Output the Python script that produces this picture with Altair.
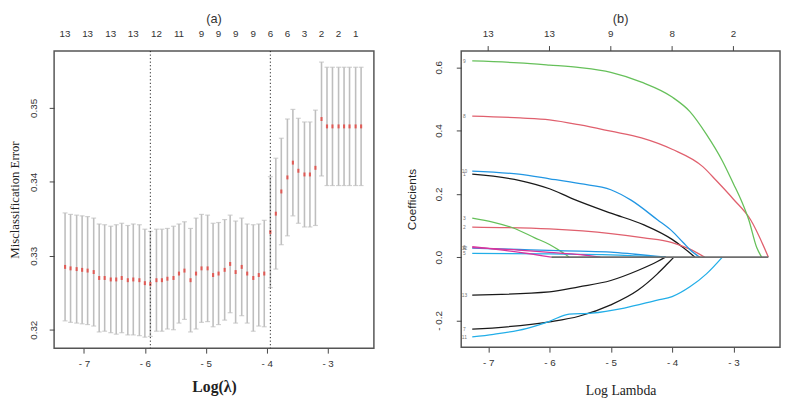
import altair as alt
import pandas as pd
import numpy as np

# ---------------- Panel (a): cross-validation curve ----------------
log_lambda = [-7.31, -7.22, -7.12, -7.03, -6.94, -6.84, -6.75, -6.66, -6.56, -6.47,
              -6.38, -6.28, -6.19, -6.09, -6.00, -5.91, -5.81, -5.72, -5.63, -5.53,
              -5.44, -5.35, -5.25, -5.16, -5.07, -4.97, -4.88, -4.79, -4.69, -4.60,
              -4.51, -4.41, -4.32, -4.22, -4.13, -4.04, -3.94, -3.85, -3.76, -3.66,
              -3.57, -3.48, -3.38, -3.29, -3.20, -3.10, -3.01, -2.92, -2.82, -2.73,
              -2.64, -2.54, -2.45]
cv_mean = [0.3285, 0.3283, 0.3282, 0.3281, 0.3280, 0.3278, 0.3270, 0.3270, 0.3268, 0.3268,
           0.3270, 0.3267, 0.3268, 0.3267, 0.3263, 0.3262, 0.3267, 0.3267, 0.3269, 0.3270,
           0.3276, 0.3280, 0.3267, 0.3276, 0.3283, 0.3283, 0.3274, 0.3276, 0.3281, 0.3289,
           0.3278, 0.3285, 0.3276, 0.3270, 0.3274, 0.3276, 0.3332, 0.3357, 0.3387, 0.3406,
           0.3426, 0.3415, 0.3410, 0.3410, 0.3419, 0.3485, 0.3475, 0.3475, 0.3475, 0.3475,
           0.3475, 0.3475, 0.3475]
cv_se = [0.0073, 0.0073, 0.0073, 0.0073, 0.0073, 0.0073, 0.0073, 0.0072, 0.0072, 0.0074,
         0.0074, 0.0074, 0.0075, 0.0075, 0.0073, 0.0071, 0.0069, 0.0069, 0.0068, 0.0070,
         0.0067, 0.0066, 0.0070, 0.0075, 0.0073, 0.0072, 0.0070, 0.0069, 0.0068, 0.0066,
         0.0069, 0.0066, 0.0067, 0.0072, 0.0069, 0.0072, 0.0075, 0.0075, 0.0072, 0.0079,
         0.0072, 0.0071, 0.0071, 0.0071, 0.0078, 0.0077, 0.0080, 0.0080, 0.0080, 0.0080,
         0.0080, 0.0080, 0.0080]
top_idx_a = [0, 4, 8, 12, 16, 20, 24, 27, 30, 33, 36, 39, 42, 45, 48, 51]
top_count_a = ["13", "13", "13", "13", "12", "11", "9", "9", "9", "9", "6", "6", "3", "2", "2", "1"]

# ---------------- Panel (b): coefficient paths ----------------
v1_x = [-7.26, -6.48, -6.0, -5.63, -5.0, -4.46, -4.0, -3.82, -3.63]
v1_y = [0.262, 0.242, 0.216, 0.185, 0.139, 0.102, 0.056, 0.030, 0.0]
v2_x = [-7.26, -6.0, -5.0, -4.46, -4.0, -3.71, -3.47]
v2_y = [0.095, 0.089, 0.0745, 0.061, 0.046, 0.025, 0.0]
v3_x = [-7.26, -6.91, -6.59, -6.24, -6.0, -5.79, -5.68]
v3_y = [0.123, 0.110, 0.092, 0.061, 0.040, 0.015, 0.0]
v4_x = [-7.26, -6.5, -6.0, -5.5, -5.0, -4.6, -4.1]
v4_y = [0.028, 0.024, 0.021, 0.019, 0.016, 0.009, 0.0]
v5_x = [-7.26, -6.0, -5.0, -4.5, -4.1]
v5_y = [0.012, 0.010, 0.007, 0.003, 0.0]
v6_x = [-7.26, -6.6, -5.97]
v6_y = [0.033, 0.018, 0.0]
v7_x = [-7.26, -6.0, -5.52, -5.0, -4.56, -4.24, -4.08, -3.97]
v7_y = [-0.228, -0.205, -0.187, -0.151, -0.105, -0.053, -0.022, 0.0]
v8_x = [-7.26, -6.48, -6.0, -5.5, -5.0, -4.5, -4.0, -3.5, -3.28, -3.0, -2.72, -2.43]
v8_y = [0.446, 0.440, 0.434, 0.418, 0.398, 0.377, 0.341, 0.286, 0.242, 0.183, 0.118, 0.0]
v9_x = [-7.26, -6.5, -6.0, -5.5, -5.0, -4.5, -4.0, -3.71, -3.44, -3.18, -3.0, -2.87, -2.75, -2.62, -2.54]
v9_y = [0.620, 0.614, 0.607, 0.599, 0.584, 0.553, 0.506, 0.460, 0.388, 0.304, 0.232, 0.178, 0.118, 0.030, 0.0]
v10_x = [-7.26, -6.5, -6.0, -5.5, -5.0, -4.67, -4.24, -4.0, -3.82, -3.66, -3.55]
v10_y = [0.272, 0.262, 0.2475, 0.232, 0.213, 0.180, 0.118, 0.082, 0.046, 0.015, 0.0]
v11_x = [-7.26, -6.91, -6.38, -6.0, -5.68, -5.31, -4.78, -4.24, -4.0, -3.71, -3.44, -3.18]
v11_y = [-0.252, -0.244, -0.226, -0.203, -0.180, -0.177, -0.161, -0.136, -0.125, -0.094, -0.053, 0.0]
v12_x = [-7.26, -6.5, -6.0, -5.5, -5.17]
v12_y = [0.030, 0.022, 0.015, 0.008, 0.0]
v13_x = [-7.26, -6.0, -5.52, -5.0, -4.56, -4.24, -4.11]
v13_y = [-0.120, -0.110, -0.094, -0.074, -0.0425, -0.014, 0.0]
top_vals_b = [-7, -6, -5, -4, -3]
top_count_b = ["13", "13", "9", "8", "2"]

paths = [(v1_x, v1_y), (v2_x, v2_y), (v3_x, v3_y), (v4_x, v4_y), (v5_x, v5_y),
         (v6_x, v6_y), (v7_x, v7_y), (v8_x, v8_y), (v9_x, v9_y), (v10_x, v10_y),
         (v11_x, v11_y), (v12_x, v12_y), (v13_x, v13_y)]
var_names = [str(i + 1) for i in range(13)]
# R default palette recycled (1:6)
var_colors = ["#1a1a1a", "#E0606E", "#66C05A", "#2196E3", "#22AEE8", "#D8359E",
              "#1a1a1a", "#E0606E", "#66C05A", "#2196E3", "#22AEE8", "#D8359E", "#1a1a1a"]

# ---------------- build tables ----------------
df_a = pd.DataFrame({"loglam": log_lambda, "cvm": cv_mean, "se": cv_se})
df_a["lo"] = df_a["cvm"] - df_a["se"]
df_a["hi"] = df_a["cvm"] + df_a["se"]
i_min = int(np.argmin(cv_mean))
thr = cv_mean[i_min] + cv_se[i_min] + 1e-9
i_1se = max(i for i, m in enumerate(cv_mean) if m <= thr)
df_vl = pd.DataFrame({"loglam": [log_lambda[i_min], log_lambda[i_1se]]})
df_top_a = pd.DataFrame({"loglam": [log_lambda[i] for i in top_idx_a], "n": top_count_a})
df_top_b = pd.DataFrame({"x": top_vals_b, "n": top_count_b})

rows = []
for name, (xs, ys) in zip(var_names, paths):
    for k, (xv, yv) in enumerate(zip(xs, ys)):
        rows.append({"var": name, "x": xv, "y": yv, "k": k})
df_b = pd.DataFrame(rows)
df_start = df_b[df_b["k"] == 0]
ends = [xs[-1] for xs, _ in paths]
df_zero = pd.DataFrame({"x": [min(ends)], "x2": [max(ends)], "y": [0.0]})

minus_int = "datum.value < 0 ? '- ' + format(-datum.value, 'd') : format(datum.value, 'd')"
minus_1f = "datum.value < 0 ? '- ' + format(-datum.value, '.1f') : format(datum.value, '.1f')"

SANS = "Liberation Sans"
SERIF = "Liberation Serif"
ax_common = dict(domain=False, grid=False, labelFont=SANS, labelFontSize=10,
                 labelColor="#333333", tickColor="#444444", tickWidth=1)

# ---------------- panel (a) ----------------
xa = alt.Scale(domain=[-7.49, -2.24], nice=False, zero=False)
ya = alt.Scale(domain=[0.3175, 0.3577], nice=False, zero=False)
base_a = alt.Chart(df_a)

bars = base_a.mark_rule(color="#BEBEBE", strokeWidth=1.6).encode(
    x=alt.X("loglam:Q", scale=xa, title="Log(λ)", axis=alt.Axis(
        values=[-7, -6, -5, -4, -3], labelExpr=minus_int,
        tickSize=5, labelPadding=6, titleFont=SERIF,
        titleFontSize=16, titleFontWeight="bold", titleColor="#222222",
        titlePadding=10, **ax_common)),
    y=alt.Y("lo:Q", scale=ya, title="Misclassification Error", axis=alt.Axis(
        values=[0.32, 0.33, 0.34, 0.35], format=".2f", labelAngle=-90,
        tickSize=5, labelPadding=11, titleFont=SERIF, titleFontSize=13,
        titleFontWeight="normal", titleColor="#222222", titlePadding=7, **ax_common)),
    y2="hi:Q",
)
cap_lo = base_a.mark_tick(orient="horizontal", size=5, thickness=1.2, color="#BEBEBE").encode(
    x=alt.X("loglam:Q", scale=xa), y=alt.Y("lo:Q", scale=ya))
cap_hi = base_a.mark_tick(orient="horizontal", size=5, thickness=1.2, color="#BEBEBE").encode(
    x=alt.X("loglam:Q", scale=xa), y=alt.Y("hi:Q", scale=ya))
pts = base_a.mark_tick(orient="vertical", size=4, thickness=2.2, color="#E8302A").encode(
    x=alt.X("loglam:Q", scale=xa), y=alt.Y("cvm:Q", scale=ya))
vlines = alt.Chart(df_vl).mark_rule(color="#222222", strokeWidth=1, strokeDash=[1.2, 2.4]).encode(
    x=alt.X("loglam:Q", scale=xa))
top_a = alt.Chart(df_top_a).mark_text(font=SANS, fontSize=10, color="#333333", baseline="middle").encode(
    x=alt.X("loglam:Q", scale=xa), y=alt.value(-17), text="n:N")

panel_a = alt.layer(bars, cap_lo, cap_hi, pts, vlines, top_a).properties(
    width=326, height=303, title="(a)")

# ---------------- panel (b) ----------------
xb = alt.Scale(domain=[-7.44, -2.24], nice=False, zero=False)
yb = alt.Scale(domain=[-0.285, 0.6516], nice=False, zero=False)

lines = alt.Chart(df_b).mark_line(interpolate="monotone", strokeWidth=1.3).encode(
    x=alt.X("x:Q", scale=xb, title="Log Lambda", axis=alt.Axis(
        values=[-7, -6, -5, -4, -3], labelExpr=minus_int,
        tickSize=5, labelPadding=6, titleFont=SERIF,
        titleFontSize=14, titleFontWeight="normal", titleColor="#222222",
        titlePadding=16, **ax_common)),
    y=alt.Y("y:Q", scale=yb, title="Coefficients", axis=alt.Axis(
        values=[-0.2, 0.0, 0.2, 0.4, 0.6], labelExpr=minus_1f, labelAngle=-90,
        tickSize=5, labelPadding=13, titleFont=SANS,
        titleFontSize=12, titleFontWeight="normal", titleColor="#222222",
        titlePadding=16, **ax_common)),
    color=alt.Color("var:N", scale=alt.Scale(domain=var_names, range=var_colors), legend=None),
    order="k:Q",
)
zero = alt.Chart(df_zero).mark_rule(color="#6E6E6E", strokeWidth=1.8).encode(
    x=alt.X("x:Q", scale=xb), x2="x2:Q", y=alt.Y("y:Q", scale=yb))
labels = alt.Chart(df_start).mark_text(fontSize=5, color="#777777", dx=-8, font=SANS).encode(
    x=alt.X("x:Q", scale=xb), y=alt.Y("y:Q", scale=yb), text="var:N")
top_ticks_b = alt.Chart(df_top_b).mark_rule(color="#444444", strokeWidth=1).encode(
    x=alt.X("x:Q", scale=xb), y=alt.value(-5), y2=alt.value(0))
top_b = alt.Chart(df_top_b).mark_text(font=SANS, fontSize=10, color="#333333", baseline="middle").encode(
    x=alt.X("x:Q", scale=xb), y=alt.value(-17), text="n:N")

panel_b = alt.layer(lines, zero, labels, top_ticks_b, top_b).properties(
    width=325, height=302, title="(b)")

chart = alt.hconcat(panel_a, panel_b, spacing=30).properties(
    padding={"left": 0, "top": 0, "right": 0, "bottom": 0}
).configure_view(
    stroke="#555555", strokeWidth=1.5
).configure_title(
    font=SANS, fontSize=13, fontWeight="normal", color="#333333", anchor="middle", offset=4
)

chart.save("out.html", embed_options={"renderer": "svg", "actions": False})
